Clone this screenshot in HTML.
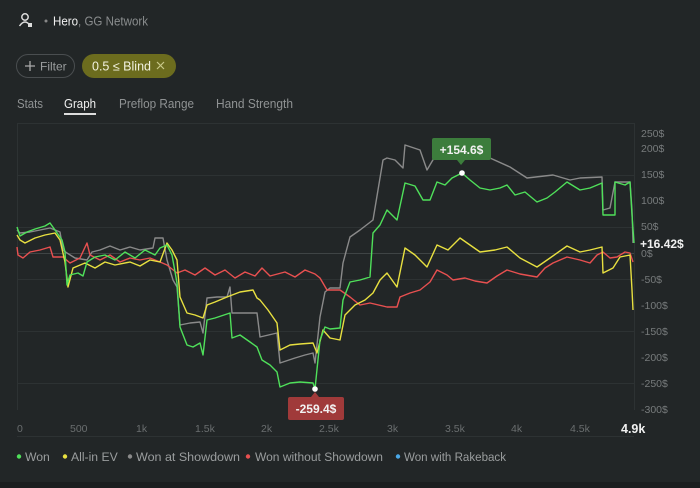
<!DOCTYPE html>
<html><head><meta charset="utf-8"><style>
html,body{margin:0;padding:0;width:700px;height:488px;background:#222627;overflow:hidden;font-family:"Liberation Sans",sans-serif;}
</style></head><body>
<div style="position:absolute;left:0;top:482px;width:700px;height:6px;background:#1b1e1f"></div>
<svg width="700" height="488" style="position:absolute;left:0;top:0" font-family="Liberation Sans, sans-serif">
<circle cx="25" cy="17" r="3.2" fill="none" stroke="#ddd" stroke-width="1.5"/>
<path d="M19.5 26 Q25 18 30.5 26" fill="none" stroke="#ddd" stroke-width="1.5"/>
<rect x="28" y="23" width="4" height="4" fill="#ddd"/>
<circle cx="46" cy="21" r="1.5" fill="#888"/>
<text x="53" y="25.5" font-size="12.5" fill="#f0f0f0" textLength="95" lengthAdjust="spacingAndGlyphs">Hero<tspan fill="#8a8d8e">, GG Network</tspan></text>
<rect x="16.5" y="54.5" width="58" height="23" rx="11.5" fill="none" stroke="#4a4e50"/>
<path d="M25 66h10M30 61v10" stroke="#aaa" stroke-width="1.3"/>
<text x="40" y="70.5" font-size="12" fill="#9a9d9e">Filter</text>
<rect x="82" y="54" width="94" height="24" rx="12" fill="#6c6c1e"/>
<text x="92" y="70.5" font-size="12.5" fill="#f2f2e0">0.5 ≤ Blind</text>
<path d="M157 62l7 7M164 62l-7 7" stroke="#c9c98a" stroke-width="1.2"/>
<text x="17" y="108" font-size="12.5" fill="#8f9293" textLength="26" lengthAdjust="spacingAndGlyphs">Stats</text>
<text x="64" y="108" font-size="12.5" fill="#f0f0f0" textLength="32" lengthAdjust="spacingAndGlyphs">Graph</text>
<rect x="64" y="113" width="32" height="2" fill="#ddd"/>
<text x="119" y="108" font-size="12.5" fill="#8f9293" textLength="75" lengthAdjust="spacingAndGlyphs">Preflop Range</text>
<text x="216" y="108" font-size="12.5" fill="#8f9293" textLength="77" lengthAdjust="spacingAndGlyphs">Hand Strength</text>
<g stroke="#2d3233" stroke-width="1">
<line x1="17" y1="123.5" x2="634" y2="123.5"/>
<line x1="17" y1="175.5" x2="634" y2="175.5"/>
<line x1="17" y1="227.5" x2="634" y2="227.5"/>
<line x1="17" y1="279.5" x2="634" y2="279.5"/>
<line x1="17" y1="331.5" x2="634" y2="331.5"/>
<line x1="17" y1="383.5" x2="634" y2="383.5"/>
<line x1="17.5" y1="123" x2="17.5" y2="410"/>
<line x1="634.5" y1="123" x2="634.5" y2="410"/>
<line x1="17" y1="436.5" x2="634" y2="436.5"/>
</g>
<line x1="17" y1="253.5" x2="634" y2="253.5" stroke="#3f4445"/>
<g font-size="10.5" fill="#777b7c">
<text x="641" y="137">250$</text><text x="641" y="152">200$</text><text x="641" y="178">150$</text>
<text x="641" y="204">100$</text><text x="641" y="230">50$</text><text x="641" y="257">0$</text>
<text x="641" y="283">-50$</text><text x="641" y="309">-100$</text><text x="641" y="335">-150$</text>
<text x="641" y="361">-200$</text><text x="641" y="387">-250$</text><text x="641" y="413">-300$</text>
</g>
<text x="640" y="248" font-size="12" font-weight="bold" fill="#f0f0f0">+16.42$</text>
<g font-size="10.5" fill="#6a6e6f">
<text x="17" y="432">0</text><text x="70" y="432">500</text><text x="136" y="432">1k</text>
<text x="195" y="432">1.5k</text><text x="261" y="432">2k</text><text x="319" y="432">2.5k</text>
<text x="387" y="432">3k</text><text x="445" y="432">3.5k</text><text x="511" y="432">4k</text><text x="570" y="432">4.5k</text>
</g>
<text x="621" y="433" font-size="12.5" font-weight="bold" fill="#f0f0f0">4.9k</text>
<g fill="none" stroke-width="1.4" stroke-linejoin="round">
<polyline stroke="#8a8a8a" points="17,230 20,233 30,232 40,230 50,228 60,232 63,250 67,253 75,258 87,260 92,252 100,250 110,246 120,250 130,247 140,250 153,248 155,238 163,238 167,260 173,280 177,287 180,325 190,323 200,322 203,333 207,298 217,297 227,297 230,287 232,313 257,313 260,337 277,333 280,363 295,358 305,355 313,353 315,363 320,317 325,292 330,288 340,288 343,263 350,237 360,230 373,220 378,190 383,160 387,158 395,160 403,168 405,145 420,150 427,170 437,153 460,153 490,158 510,167 527,178 553,175 570,180 580,178 602,177 603,210 610,208 615,182 630,182 632,210 633,243"/>
<polyline stroke="#e85050" points="17,247 18,255 23,258 30,252 40,250 50,247 53,257 63,257 70,263 80,258 87,243 90,255 100,260 110,255 120,262 130,258 140,260 150,258 160,262 167,265 177,273 185,270 195,275 205,268 215,275 225,270 235,278 245,272 255,276 262,268 270,276 285,272 295,277 305,270 315,274 320,278 327,290 340,290 350,297 360,305 370,303 387,307 397,307 400,297 410,293 420,290 430,282 437,270 447,275 453,280 465,278 475,281 487,283 497,276 507,270 520,274 537,277 545,268 553,263 567,257 580,260 590,263 597,255 603,252 610,258 617,257 625,252 630,253 633,262"/>
<polyline stroke="#e8e040" points="17,235 20,240 25,243 35,238 45,235 55,233 60,240 65,262 68,287 73,268 85,263 95,268 105,262 115,265 130,262 140,266 150,260 160,262 167,243 172,250 177,260 180,297 187,313 195,315 203,318 207,305 215,302 227,297 240,292 253,290 257,298 260,300 268,310 277,323 280,350 290,345 300,344 313,343 317,353 323,330 330,338 340,340 345,315 355,305 365,300 373,293 380,280 387,273 397,287 405,248 415,255 427,267 437,245 448,250 460,238 470,245 480,252 495,250 507,247 520,258 537,267 550,258 567,246 580,252 590,250 602,247 603,273 613,268 620,257 630,255 632,290 633,310"/>
<polyline stroke="#4fe05a" points="17,227 20,236 27,232 35,229 45,226 50,223 55,230 62,240 65,252 67,285 70,275 78,273 83,276 87,262 95,257 105,255 115,260 125,252 135,258 145,250 155,255 160,248 167,245 172,255 177,283 180,327 187,345 193,347 200,343 203,355 207,320 215,318 230,313 232,338 240,335 250,342 257,347 262,360 270,365 277,372 280,387 290,383 300,382 313,383 315,389 320,340 325,327 330,329 340,328 343,300 350,282 360,280 370,277 373,233 380,225 387,210 397,220 405,183 415,186 423,200 430,200 437,182 445,185 452,178 462,173 470,180 480,188 490,190 500,188 507,185 515,195 525,192 537,202 547,198 555,192 567,182 580,190 590,188 602,183 603,215 615,215 615,182 625,185 630,182 632,215 634,243"/>
</g>
<rect x="432" y="138" width="59" height="22" rx="2" fill="#3c7d3c"/>
<path d="M457 160l4 5 4-5z" fill="#3c7d3c"/>
<text x="461.5" y="154" font-size="12" font-weight="bold" fill="#f2f2f2" text-anchor="middle">+154.6$</text>
<circle cx="462" cy="173" r="2.8" fill="#fff"/>
<rect x="288" y="397" width="56" height="23" rx="2" fill="#a03a3a"/>
<path d="M311 397l4-5 4 5z" fill="#a03a3a"/>
<text x="316" y="413" font-size="12" font-weight="bold" fill="#f2f2f2" text-anchor="middle">-259.4$</text>
<circle cx="315" cy="389" r="2.8" fill="#fff"/>
<g font-size="12.2" fill="#9a9d9e">
<circle cx="19" cy="456.5" r="2.2" fill="#4fe05a"/><text x="25" y="461">Won</text>
<circle cx="65" cy="456.5" r="2.2" fill="#e8e040"/><text x="71" y="461">All-in EV</text>
<circle cx="130" cy="456.5" r="2.2" fill="#8a8a8a"/><text x="136" y="461" textLength="104" lengthAdjust="spacingAndGlyphs">Won at Showdown</text>
<circle cx="248" cy="456.5" r="2.2" fill="#e85050"/><text x="255" y="461" textLength="128" lengthAdjust="spacingAndGlyphs">Won without Showdown</text>
<circle cx="398" cy="456.5" r="2.2" fill="#4aa8e8"/><text x="404" y="461" textLength="102" lengthAdjust="spacingAndGlyphs">Won with Rakeback</text>
</g>
</svg>
</body></html>
